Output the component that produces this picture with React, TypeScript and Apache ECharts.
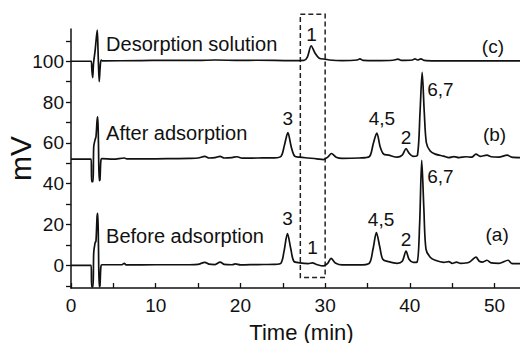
import React, { useEffect, useRef } from "react";
import * as echarts from "echarts";

// Chromatogram traces: [time (min), signal (mV)]
const traceA: [number, number][] = [
  [0, 0], [2.38, 0], [2.44, -10.5], [2.6, -10.5], [2.68, 6], [2.84, 11], [2.95, 12], [3.08, 24], [3.16, 25.5],
  [3.24, 10], [3.33, -10.5], [3.42, -10], [3.52, -1], [3.65, 0.3], [6, 0.3], [6.3, 1], [6.5, 0.2], [10, 0.3],
  [14, 0.3], [15, 0.5], [15.8, 1.5], [16.3, 0.6], [17, 0.4], [17.6, 1.6], [18.1, 0.5], [19, 0.3], [19.4, 0.7],
  [20, 0.2], [22, 0.4], [24, 0.5], [24.8, 1.2], [25.15, 7], [25.55, 15.5], [25.95, 8], [26.3, 2], [27, 1.2],
  [28, 0.8], [28.5, 1.2], [29, 0.4], [29.8, -0.3], [30.3, 1], [30.7, 3.4], [31.2, 1.2], [32, 0.2], [34, 0.2],
  [35.2, 1], [35.65, 8], [36.05, 16], [36.45, 9], [36.8, 3], [37.5, 1.8], [38.5, 1], [39.1, 2], [39.55, 7],
  [39.9, 3], [40.4, 1.5], [40.85, 1.6], [41.15, 20], [41.4, 51.5], [41.65, 28], [41.9, 8], [42.4, 4], [43, 2.5],
  [44, 1.5], [44.6, 1.8], [45, 1], [45.5, 1.6], [46, 1], [47, 1.5], [47.8, 4], [48.2, 2], [48.6, 1.6],
  [49.1, 2.5], [49.6, 1.2], [50.5, 1], [51.6, 2.5], [52, 1], [53, 0.8],
];

const traceB: [number, number][] = [
  [0, 52], [2.38, 52], [2.44, 41], [2.6, 41], [2.68, 58], [2.84, 61.5], [2.95, 63], [3.08, 71], [3.16, 72.8],
  [3.24, 60], [3.33, 41.5], [3.42, 42], [3.52, 51], [3.65, 52.3], [5, 52], [6.3, 52.6], [6.6, 52.2], [10, 52.2],
  [12, 52.3], [14, 52.4], [15, 52.6], [15.8, 53.4], [16.3, 52.6], [17, 52.8], [17.6, 53.4], [18.1, 52.6],
  [19, 52.8], [19.6, 53.2], [20.2, 52.5], [22, 52.6], [24, 52.7], [24.8, 53.5], [25.2, 59], [25.6, 65],
  [26, 58], [26.4, 53.5], [27, 53], [28, 52.6], [29, 52.2], [29.8, 51.8], [30.3, 53], [30.75, 54.8],
  [31.3, 53], [32, 52.4], [34, 52.6], [35.2, 53.2], [35.7, 60], [36.1, 64.8], [36.5, 58], [36.9, 54.5],
  [37.5, 54], [38.5, 53], [39.1, 54], [39.55, 57.2], [39.9, 55], [40.4, 53.4], [40.9, 54], [41.2, 75],
  [41.45, 94.5], [41.7, 75], [41.95, 60], [42.4, 56], [43, 54.5], [44, 53.5], [44.6, 52.8], [45.2, 53.3],
  [45.8, 52.8], [46.6, 53.2], [47.3, 53], [47.8, 54.5], [48.3, 53.4], [49.1, 54], [49.6, 53.2], [50.5, 53],
  [51.5, 54], [52, 53], [53, 52.8],
];

const traceC: [number, number][] = [
  [0, 100], [2.38, 100], [2.46, 96], [2.56, 92], [2.66, 99], [2.84, 105], [2.98, 111], [3.1, 115.3],
  [3.2, 104], [3.33, 90], [3.44, 97], [3.55, 100.6], [3.7, 100.2], [8, 100.3], [12, 100.5], [15, 100.4],
  [17, 100.6], [20, 100.4], [22, 100.5], [26, 100.3], [27.5, 100.4], [27.9, 102], [28.35, 107.6],
  [28.8, 104], [29.3, 101.5], [30, 101], [30.5, 100.6], [32, 100.3], [33.8, 100.6], [34.1, 101.2],
  [34.5, 100.4], [36, 100.3], [38, 100.5], [38.6, 101], [39, 100.4], [40.3, 100.6], [40.6, 101.2],
  [40.9, 100.6], [41.3, 101.2], [41.7, 100.4], [43, 100.2], [46, 100.2], [50, 100.2], [53, 100.2],
];

const xTicks = [0, 5, 10, 15, 20, 25, 30, 35, 40, 45, 50];
const xLabels = [0, 10, 20, 30, 40, 50];
const yTicks = [-10, 0, 10, 20, 30, 40, 50, 60, 70, 80, 90, 100, 110];
const yLabels = [0, 20, 40, 60, 80, 100];

// Peak labels: [time, mV, text]
const peakLabels: [number, number, string][] = [
  [28.4, 112.9, "1"],
  [25.6, 72, "3"], [36.7, 72, "4,5"], [39.55, 62.7, "2"], [43.6, 86.3, "6,7"],
  [25.55, 23, "3"], [28.5, 8.8, "1"], [36.6, 22.7, "4,5"], [39.55, 12.7, "2"], [43.6, 43.6, "6,7"],
];

// Trace names: [time, mV, text] (left aligned)
const traceNames: [number, number, string][] = [
  [4.14, 108.5, "Desorption solution"],
  [4.14, 65, "After adsorption"],
  [4.14, 14.5, "Before adsorption"],
];

// Trace tags: [time, mV, text]
const traceTags: [number, number, string][] = [
  [49.8, 107.2, "(c)"],
  [50.0, 63.9, "(b)"],
  [50.3, 14.9, "(a)"],
];

// Dashed box around peak 1: [x0, x1] min, [y0, y1] mV
const boxX = [27.07, 30.0];
const boxY = [-5.9, 123];

const FONT = "Liberation Sans";
const INK = "#111";

export default function App() {
  const ref = useRef<HTMLDivElement>(null);
  useEffect(() => {
    if (!ref.current) return;
    const chart = echarts.init(ref.current, undefined, { renderer: "svg" });
    const lineSeries = (data: [number, number][]) => ({
      type: "line",
      data,
      showSymbol: false,
      symbol: "none",
      smooth: 0.3,
      lineStyle: { color: INK, width: 1.7 },
      clip: true,
    });
    chart.setOption({
      animation: false,
      backgroundColor: "#fff",
      textStyle: { fontFamily: FONT },
      grid: { left: 71, right: 0, top: 29, bottom: 55, containLabel: false, outerBoundsMode: "none" },
      xAxis: {
        type: "value",
        min: 0,
        max: 53,
        name: "Time (min)",
        nameLocation: "middle",
        nameGap: 33,
        nameMoveOverlap: false,
        nameTextStyle: { fontFamily: FONT, fontSize: 22, color: INK, padding: [0, 0, 0, 12] },
        axisLine: { show: true, onZero: false, lineStyle: { color: INK, width: 1.5 } },
        axisTick: { show: true, inside: true, length: 5, customValues: xTicks, lineStyle: { color: INK, width: 1.3 } },
        axisLabel: { customValues: xLabels, fontFamily: FONT, fontSize: 19, color: INK, margin: 8 },
        splitLine: { show: false },
      },
      yAxis: {
        type: "value",
        min: -11.1,
        max: 115.8,
        name: "mV",
        nameLocation: "middle",
        nameRotate: 90,
        nameGap: 36,
        nameMoveOverlap: false,
        nameTextStyle: { fontFamily: FONT, fontSize: 30, color: INK },
        axisLine: { show: true, onZero: false, lineStyle: { color: INK, width: 1.5 } },
        axisTick: { show: true, inside: false, length: 5, customValues: yTicks, lineStyle: { color: INK, width: 1.3 } },
        axisLabel: { customValues: yLabels, fontFamily: FONT, fontSize: 19, color: INK, margin: 7 },
        splitLine: { show: false },
      },
      series: [lineSeries(traceA), lineSeries(traceB), lineSeries(traceC)],
    });

    const px = (x: number, y: number) => chart.convertToPixel({ gridIndex: 0 }, [x, y]) as number[];
    const graphics: any[] = [];
    peakLabels.forEach(([x, y, t]) => {
      const p = px(x, y);
      graphics.push({
        type: "text", x: p[0], y: p[1],
        style: { text: t, fontFamily: FONT, fontSize: 19, fill: INK, textAlign: "center", textVerticalAlign: "middle" },
      });
    });
    traceNames.forEach(([x, y, t]) => {
      const p = px(x, y);
      graphics.push({
        type: "text", x: p[0], y: p[1],
        style: { text: t, fontFamily: FONT, fontSize: 20, fill: INK, textAlign: "left", textVerticalAlign: "middle" },
      });
    });
    traceTags.forEach(([x, y, t]) => {
      const p = px(x, y);
      graphics.push({
        type: "text", x: p[0], y: p[1],
        style: { text: t, fontFamily: FONT, fontSize: 19, fill: INK, textAlign: "center", textVerticalAlign: "middle" },
      });
    });
    const b0 = px(boxX[0], boxY[1]);
    const b1 = px(boxX[1], boxY[0]);
    graphics.push({
      type: "rect",
      shape: { x: b0[0], y: b0[1], width: b1[0] - b0[0], height: b1[1] - b0[1] },
      style: { fill: "none", stroke: "#222", lineWidth: 1.5, lineDash: [5, 3] },
    });
    chart.setOption({ graphic: graphics });
    return () => chart.dispose();
  }, []);
  return (
    <div
      ref={ref}
      style={{ position: "fixed", left: 0, top: 0, width: 520, height: 343, background: "#fff" }}
    />
  );
}
